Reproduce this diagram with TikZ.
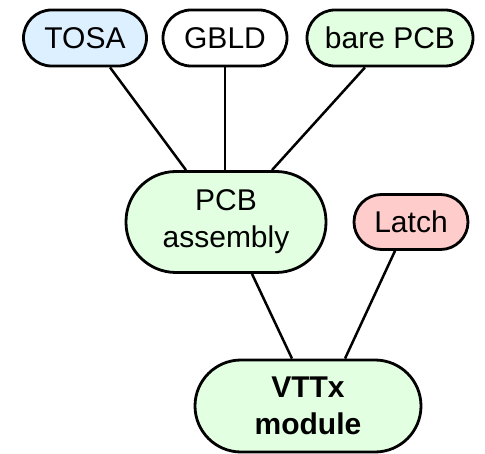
\documentclass[tikz,border=0pt]{standalone}
\usepackage{fontspec}
\setmainfont{Liberation Sans}
\definecolor{bluefill}{HTML}{DDF0FF}
\definecolor{greenfill}{HTML}{E2FFE2}
\definecolor{redfill}{HTML}{FFCCCC}
\begin{document}
\begin{tikzpicture}[x=1pt,y=-1pt,
  box/.style={draw, line width=2.8pt, inner sep=0pt, align=center,
    font=\fontsize{30}{37}\selectfont},
  small/.style={box, minimum height=56pt, rounded corners=28pt},
  big/.style={box, rounded corners=46pt},
  conn/.style={line width=2.5pt}]
\useasboundingbox (0,0) rectangle (485,454);
\node[small, fill=bluefill, minimum width=123pt] (tosa) at (85,38) {TOSA};
\node[small, fill=white, minimum width=124pt] (gbld) at (225,38) {GBLD};
\node[small, fill=greenfill, minimum width=166pt] (bare) at (390,38) {bare PCB};
\node[box, fill=greenfill, minimum width=200pt, minimum height=101pt, rounded corners=50pt] (pcba) at (226,222) {PCB\\assembly};
\node[small, fill=redfill, minimum width=114pt, minimum height=55pt, rounded corners=27.5pt] (latch) at (411,222) {Latch};
\node[big, fill=greenfill, minimum width=226pt, minimum height=92pt, font=\fontsize{30}{37}\selectfont\bfseries] (vttx) at (308,406) {VTTx\\module};
\draw[conn] ([xshift=25pt]tosa.south) -- ([xshift=-40pt]pcba.north);
\draw[conn] (gbld.south) -- ([xshift=-1pt]pcba.north);
\draw[conn] ([xshift=-25pt]bare.south) -- ([xshift=46pt]pcba.north);
\draw[conn] ([xshift=26pt]pcba.south) -- ([xshift=-16pt]vttx.north);
\draw[conn] ([xshift=-16pt]latch.south) -- ([xshift=37pt]vttx.north);
\end{tikzpicture}
\end{document}
